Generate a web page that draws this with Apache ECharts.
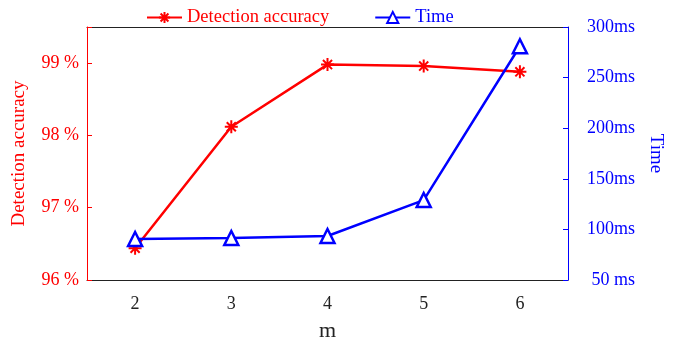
<!DOCTYPE html>
<html>
<head>
<meta charset="utf-8">
<script src="https://cdn.jsdelivr.net/npm/echarts@6/dist/echarts.min.js"></script>
<style>
  html, body { margin: 0; padding: 0; background: #fff; }
  #main { width: 679px; height: 347px; }
</style>
</head>
<body>
<div id="main"></div>
<script>
var mValues = ['2', '3', '4', '5', '6'];
var accuracy = [96.44, 98.12, 98.98, 98.96, 98.88];
var timeMs = [90.5, 91.5, 93.5, 129, 281];

var font = 'Liberation Serif';
var red = '#ff0000';
var blue = '#0000ff';
var asterisk = 'path://M0,-10L0,10M-10,0L10,0M-7,-7L7,7M-7,7L7,-7';

var chart = echarts.init(document.getElementById('main'));

var option = {
    animation: false,
    grid: { left: 87, right: 111, top: 27, bottom: 66 },
    legend: {
        left: 141,
        top: 3,
        itemWidth: 35,
        itemHeight: 14,
        itemGap: 45,
        textStyle: { fontFamily: font, fontSize: 18.5 },
        data: [
            { name: 'Detection accuracy', textStyle: { color: red } },
            { name: 'Time', textStyle: { color: blue } }
        ]
    },
    xAxis: [
        {
            type: 'category',
            data: mValues,
            position: 'bottom',
            name: 'm',
            nameLocation: 'middle',
            nameGap: 40,
            nameTextStyle: { fontFamily: font, fontSize: 22, color: '#222' },
            axisLine: { lineStyle: { color: '#222', width: 1 } },
            axisTick: { alignWithLabel: true, inside: true, length: 5, lineStyle: { color: '#222' } },
            axisLabel: { fontFamily: font, fontSize: 18, color: '#222', margin: 15 },
            splitLine: { show: false }
        },
        {
            type: 'category',
            data: mValues,
            position: 'top',
            axisLine: { lineStyle: { color: '#222', width: 1 } },
            axisTick: { alignWithLabel: true, inside: true, length: 5, lineStyle: { color: '#222' } },
            axisLabel: { show: false },
            splitLine: { show: false }
        }
    ],
    yAxis: [
        {
            type: 'value',
            min: 96,
            max: 99.5,
            interval: 1,
            name: 'Detection accuracy',
            nameLocation: 'middle',
            nameGap: 58,
            nameRotate: 90,
            nameTextStyle: { fontFamily: font, fontSize: 19, color: red },
            axisLine: { show: true, lineStyle: { color: red, width: 1 } },
            axisTick: { show: true, inside: true, length: 5, lineStyle: { color: red } },
            axisLabel: {
                fontFamily: font, fontSize: 18, color: red, margin: 8,
                formatter: function (v) { return v % 1 === 0 ? v + ' %' : ''; }
            },
            splitLine: { show: false }
        },
        {
            type: 'value',
            min: 50,
            max: 300,
            interval: 50,
            position: 'right',
            name: 'Time',
            nameLocation: 'middle',
            nameGap: 78,
            nameRotate: -90,
            nameTextStyle: { fontFamily: font, fontSize: 19, color: blue },
            axisLine: { show: true, lineStyle: { color: blue, width: 1 } },
            axisTick: { show: true, inside: true, length: 5, lineStyle: { color: blue } },
            axisLabel: {
                fontFamily: font, fontSize: 18, color: blue, margin: 67, align: 'right',
                formatter: function (v) { return v < 100 ? v + ' ms' : v + 'ms'; }
            },
            splitLine: { show: false }
        }
    ],
    series: [
        {
            name: 'Detection accuracy',
            type: 'line',
            xAxisIndex: 0,
            yAxisIndex: 0,
            data: accuracy,
            symbol: asterisk,
            symbolSize: 13,
            lineStyle: { color: red, width: 2.5 },
            itemStyle: { color: 'none', borderColor: red, borderWidth: 2 },
            z: 2
        },
        {
            name: 'Time',
            type: 'line',
            xAxisIndex: 0,
            yAxisIndex: 1,
            data: timeMs,
            symbol: 'triangle',
            symbolSize: 14,
            lineStyle: { color: blue, width: 2.5 },
            itemStyle: { color: '#fff', borderColor: blue, borderWidth: 2.5 },
            z: 3
        }
    ]
};

chart.setOption(option);
</script>
</body>
</html>
